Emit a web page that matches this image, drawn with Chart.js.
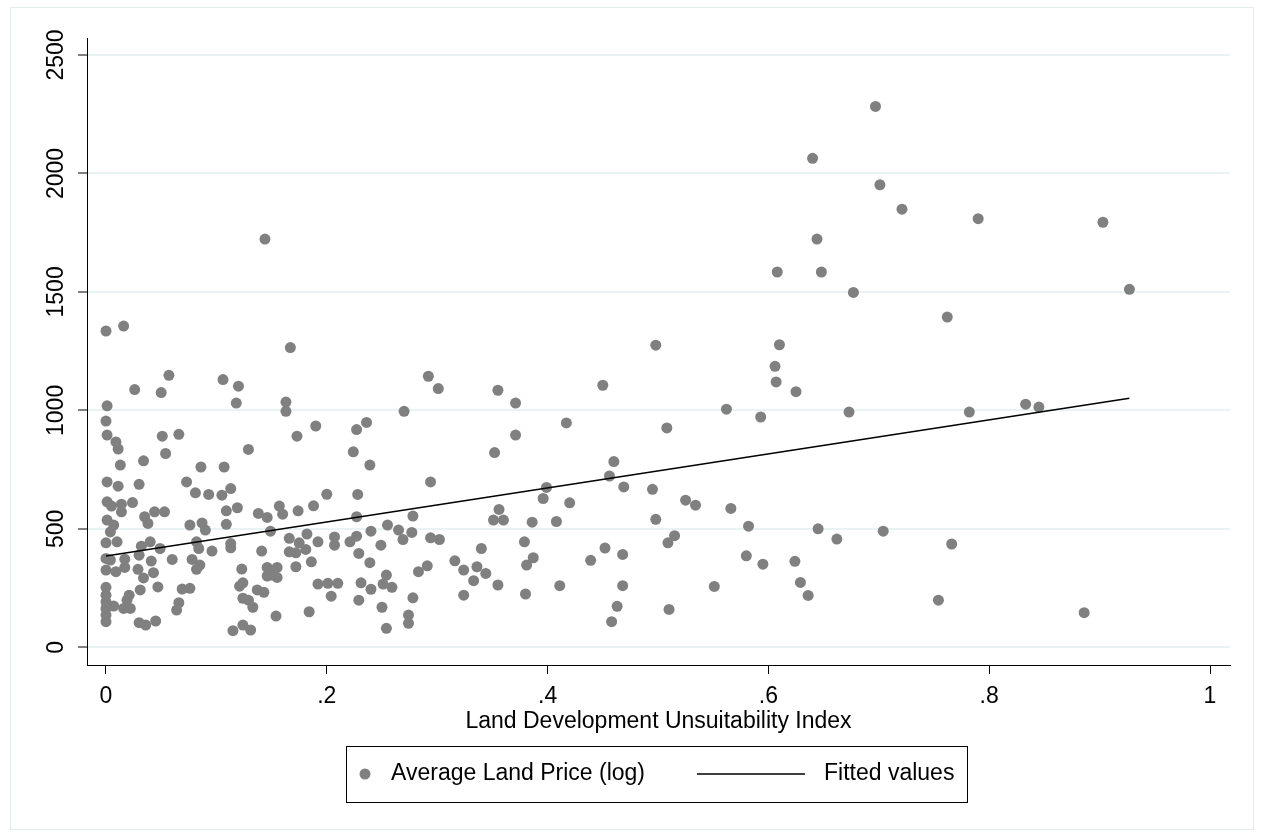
<!DOCTYPE html>
<html>
<head>
<meta charset="utf-8">
<script src="https://cdn.jsdelivr.net/npm/chart.js@4.4.1/dist/chart.umd.min.js"></script>
<style>
  html, body { margin: 0; padding: 0; background: #fff; }
  #wrap { width: 1263px; height: 836px; }
</style>
</head>
<body>
<div id="wrap"><canvas id="landChart" width="1263" height="836"></canvas></div>
<script>
// Land Development Unsuitability Index vs Average Land Price (log)
const landIndex = [
  0.000, 0.016, 0.057, 0.026, 0.050, 0.001, 0.000, 0.001, 0.009, 0.011,
  0.051, 0.066, 0.054, 0.013, 0.034, 0.086, 0.001, 0.011, 0.030, 0.073,
  0.081, 0.093, 0.105, 0.001, 0.005, 0.014, 0.014, 0.024, 0.035, 0.044,
  0.053, 0.038, 0.001, 0.007, 0.004, 0.076, 0.087, 0.090, 0.000, 0.010,
  0.032, 0.040, 0.049, 0.082, 0.084, 0.096, 0.000, 0.004, 0.017, 0.030,
  0.041, 0.060, 0.078, 0.085, 0.082, 0.000, 0.009, 0.017, 0.029, 0.043,
  0.034, 0.000, 0.000, 0.031, 0.047, 0.069, 0.076, 0.021, 0.019, 0.000,
  0.000, 0.007, 0.016, 0.022, 0.066, 0.064, 0.000, 0.000, 0.030, 0.036,
  0.045, 0.113, 0.200, 0.109, 0.119, 0.138, 0.146, 0.157, 0.160, 0.174,
  0.188, 0.109, 0.149, 0.113, 0.113, 0.166, 0.182, 0.175, 0.192, 0.207,
  0.207, 0.141, 0.166, 0.172, 0.181, 0.186, 0.172, 0.123, 0.146, 0.155,
  0.146, 0.155, 0.150, 0.124, 0.121, 0.137, 0.143, 0.192, 0.201, 0.210,
  0.204, 0.124, 0.129, 0.133, 0.154, 0.184, 0.115, 0.124, 0.131, 0.167,
  0.106, 0.120, 0.118, 0.163, 0.163, 0.190, 0.173, 0.129, 0.107, 0.292,
  0.301, 0.270, 0.236, 0.227, 0.224, 0.239, 0.294, 0.228, 0.227, 0.278,
  0.255, 0.240, 0.265, 0.277, 0.269, 0.294, 0.302, 0.221, 0.227, 0.249,
  0.229, 0.239, 0.291, 0.283, 0.316, 0.324, 0.336, 0.340, 0.333, 0.231,
  0.240, 0.254, 0.251, 0.259, 0.229, 0.278, 0.324, 0.250, 0.274, 0.274,
  0.254, 0.355, 0.371, 0.450, 0.417, 0.371, 0.352, 0.460, 0.456, 0.469,
  0.495, 0.399, 0.396, 0.420, 0.356, 0.351, 0.360, 0.386, 0.408, 0.379,
  0.387, 0.381, 0.344, 0.355, 0.380, 0.439, 0.452, 0.468, 0.411, 0.468,
  0.463, 0.458, 0.498, 0.610, 0.606, 0.607, 0.625, 0.562, 0.593, 0.673,
  0.508, 0.525, 0.534, 0.566, 0.498, 0.582, 0.645, 0.662, 0.704, 0.515,
  0.509, 0.580, 0.595, 0.624, 0.629, 0.636, 0.551, 0.510, 0.754, 0.762,
  0.782, 0.833, 0.845, 0.766, 0.886, 0.927, 0.697, 0.640, 0.701, 0.721,
  0.790, 0.903, 0.644, 0.608, 0.648, 0.677, 0.144
];
const landPrice = [
  1335, 1356, 1148, 1088, 1075, 1019, 955, 896, 867, 837,
  891, 899, 818, 769, 787, 761, 698, 680, 688, 698,
  652, 645, 642, 614, 596, 604, 572, 611, 551, 572,
  572, 523, 537, 516, 487, 516, 525, 495, 441, 445,
  427, 445, 417, 445, 417, 406, 375, 368, 372, 389,
  364, 371, 371, 347, 329, 326, 319, 337, 329, 315,
  293, 253, 220, 242, 255, 246, 249, 220, 199, 192,
  164, 174, 164, 164, 188, 157, 136, 108, 104, 94,
  111, 670, 646, 576, 589, 565, 548, 596, 562, 576,
  597, 519, 490, 438, 420, 460, 478, 441, 445, 466,
  431, 406, 403, 399, 413, 361, 340, 330, 337, 337,
  301, 295, 305, 272, 258, 242, 232, 267, 270, 270,
  216, 207, 199, 169, 132, 150, 70, 94, 73, 1265,
  1130, 1102, 1031, 1035, 996, 934, 891, 835, 761, 1144,
  1092, 996, 949, 919, 825, 769, 698, 645, 551, 554,
  516, 490, 495, 485, 455, 462, 455, 445, 469, 431,
  396, 357, 344, 319, 365, 326, 340, 417, 281, 272,
  245, 305, 267, 253, 199, 209, 220, 169, 136, 101,
  80, 1085, 1031, 1106, 947, 896, 822, 784, 723, 677,
  667, 675, 628, 610, 582, 537, 537, 528, 531, 445,
  378, 347, 312, 263, 225, 367, 419, 392, 260, 260,
  173, 108, 1275, 1277, 1186, 1120, 1079, 1005, 972, 993,
  926, 621, 600, 586, 540, 511, 500, 457, 490, 471,
  441, 386, 351, 363, 274, 219, 257, 160, 199, 1394,
  993, 1026, 1014, 436, 146, 1511, 2283, 2064, 1952, 1849,
  1809, 1794, 1723, 1584, 1584, 1498, 1723
];

// fitted line end points (min and max of the index)
const fitX = [0, 0.927];
const fitY = [385, 1051];

const xTickValues = [0, 0.2, 0.4, 0.6, 0.8, 1];
const xTickLabels = ['0', '.2', '.4', '.6', '.8', '1'];
const yTickValues = [0, 500, 1000, 1500, 2000, 2500];
const yTickLabels = ['0', '500', '1000', '1500', '2000', '2500'];

const FONT = "'Liberation Sans', Arial, Helvetica, sans-serif";
const DOT = '#808080';

// legend box and outer frame drawn by hand, Stata style
const stataLegend = {
    id: 'stataLegend',
    afterDraw(chart) {
        const ctx = chart.ctx;
        const ds = chart.data.datasets;
        ctx.save();
        // faint graph region outline
        ctx.strokeStyle = '#e3ebee';
        ctx.lineWidth = 1;
        ctx.strokeRect(10.5, 7.5, 1243, 822);
        // legend
        ctx.strokeStyle = '#000';
        ctx.strokeRect(346.5, 746.5, 621, 56);
        const cy = 774;
        ctx.fillStyle = ds[0].backgroundColor;
        ctx.beginPath();
        ctx.arc(365, cy, 5.5, 0, Math.PI * 2);
        ctx.fill();
        ctx.fillStyle = '#000';
        ctx.font = '23px ' + FONT;
        ctx.textBaseline = 'middle';
        ctx.textAlign = 'left';
        ctx.fillText(ds[0].label, 391, cy);
        ctx.lineWidth = 1.5;
        ctx.beginPath();
        ctx.moveTo(697, cy);
        ctx.lineTo(805, cy);
        ctx.stroke();
        ctx.fillText(ds[1].label, 824, cy);
        ctx.restore();
    }
};

const ctxLand = document.getElementById('landChart').getContext('2d');

const landChart = new Chart(ctxLand, {
    type: 'scatter',
    data: {
        datasets: [
            {
                label: 'Average Land Price (log)',
                data: landIndex.map((v, i) => ({ x: v, y: landPrice[i] })),
                backgroundColor: DOT,
                borderWidth: 0,
                pointRadius: 5.5,
                pointHoverRadius: 5.5,
                order: 2
            },
            {
                label: 'Fitted values',
                data: fitX.map((v, i) => ({ x: v, y: fitY[i] })),
                showLine: true,
                borderColor: '#000',
                borderWidth: 1.5,
                pointRadius: 0,
                fill: false,
                order: 1
            }
        ]
    },
    options: {
        responsive: false,
        animation: false,
        devicePixelRatio: 1,
        layout: {
            padding: { top: 38, left: 0, right: 33, bottom: 101 }
        },
        plugins: {
            legend: { display: false },
            tooltip: { enabled: false }
        },
        scales: {
            x: {
                type: 'linear',
                min: -0.0172,
                max: 1.0181,
                afterBuildTicks: (scale) => {
                    scale.ticks = xTickValues.map(v => ({ value: v }));
                },
                afterFit: (scale) => { scale.height = 70; },
                ticks: {
                    color: '#000',
                    font: { family: FONT, size: 23 },
                    padding: 9,
                    maxRotation: 0,
                    callback: (v, i) => xTickLabels[i]
                },
                grid: {
                    drawOnChartArea: false,
                    drawTicks: true,
                    tickLength: 9,
                    tickColor: '#000',
                    color: '#000'
                },
                border: { color: '#000', width: 1 },
                title: {
                    display: true,
                    text: 'Land Development Unsuitability Index',
                    color: '#000',
                    font: { family: FONT, size: 23 },
                    padding: 0
                }
            },
            y: {
                type: 'linear',
                min: -74.7,
                max: 2571.7,
                afterBuildTicks: (scale) => {
                    scale.ticks = yTickValues.map(v => ({ value: v }));
                },
                afterFit: (scale) => { scale.width = 87; },
                ticks: {
                    color: '#000',
                    font: { family: FONT, size: 23 },
                    minRotation: 90,
                    maxRotation: 90,
                    crossAlign: 'center',
                    padding: -4,
                    callback: (v, i) => yTickLabels[i]
                },
                grid: {
                    color: '#eaf2f3',
                    lineWidth: 2,
                    drawTicks: true,
                    tickLength: 9,
                    tickColor: '#000',
                    tickWidth: 1
                },
                border: { color: '#000', width: 1 }
            }
        }
    },
    plugins: [stataLegend]
});
</script>
</body>
</html>
